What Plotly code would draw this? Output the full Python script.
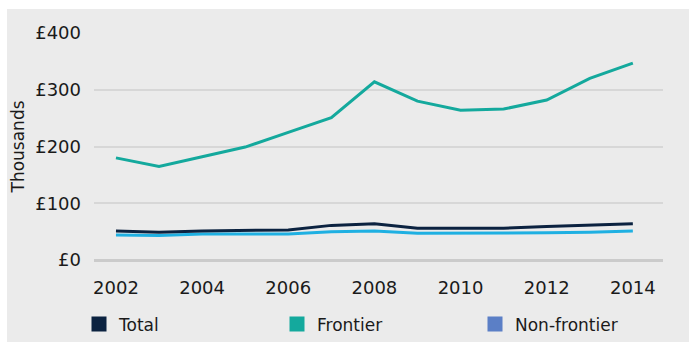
import plotly.graph_objects as go

years = list(range(2002, 2015))
total = [51, 49, 51, 52, 53, 61, 64, 56, 56, 56, 59, 62, 64]
frontier = [180, 165, 182, 199, 225, 251, 314, 280, 264, 266, 282, 320, 347]
non_frontier = [44, 43, 46, 46, 46, 50, 51, 47, 47, 47.5, 48, 49, 51]

y_ticks = [0, 100, 200, 300, 400]
y_tick_labels = ["£0", "£100", "£200", "£300", "£400"]
x_ticks = [2002, 2004, 2006, 2008, 2010, 2012, 2014]

navy = "#0b2240"
teal = "#14a99d"
light_blue = "#1fb0e2"
legend_blue = "#5b7fc6"
bg = "#ebebeb"
font = "DejaVu Sans"

fig = go.Figure()
fig.add_trace(go.Scatter(x=years, y=non_frontier, mode="lines", line=dict(color=light_blue, width=3), showlegend=False))
fig.add_trace(go.Scatter(x=years, y=total, mode="lines", line=dict(color=navy, width=3), showlegend=False))
fig.add_trace(go.Scatter(x=years, y=frontier, mode="lines", line=dict(color=teal, width=3), showlegend=False))

for name, col in [("Total", navy), ("Frontier", teal), ("Non-frontier", legend_blue)]:
    fig.add_trace(go.Scatter(x=[None], y=[None], mode="markers", name=name,
                             marker=dict(symbol="square", size=15, color=col)))

L, R, T, B = 94, 26, 33, 82
W, H = 689, 342
pw = W - L - R
ph = H - T - B

fig.add_shape(type="rect", xref="paper", yref="paper",
              x0=(7 - L) / pw, x1=(W - L + 5) / pw,
              y0=-(H - T - ph + 5) / ph, y1=(ph + T - 9) / ph,
              fillcolor=bg, line=dict(width=0), layer="below")

fig.update_layout(
    width=W, height=H,
    margin=dict(l=L, r=R, t=T, b=B, autoexpand=False),
    paper_bgcolor="white", plot_bgcolor=bg,
    font=dict(family=font, size=17, color="#1a1a1a"),
    xaxis=dict(range=[2001.49, 2014.70], tickvals=x_ticks, showgrid=False, zeroline=False,
               showline=False, ticks="", ticklabelstandoff=15, tickfont=dict(size=18),
               automargin=False),
    yaxis=dict(range=[0, 400], tickvals=y_ticks, ticktext=y_tick_labels, showgrid=True,
               gridcolor="#d7d7d7", gridwidth=1.5, zeroline=True, zerolinecolor="#cbcbcb",
               zerolinewidth=3, showline=False, ticks="", ticklabelstandoff=12,
               tickfont=dict(size=18), automargin=False,
               title=dict(text="Thousands", font=dict(size=17), standoff=6)),
    legend=dict(orientation="h", x=(79 - L) / pw, xanchor="left", y=-(324.5 - 260) / ph,
                yanchor="middle", entrywidth=153, entrywidthmode="pixels",
                font=dict(size=17), bgcolor="rgba(0,0,0,0)", itemsizing="trace"),
    showlegend=True,
)

fig.write_html("out.html", config={"displayModeBar": False},
               post_script="document.body.style.margin='0';")
